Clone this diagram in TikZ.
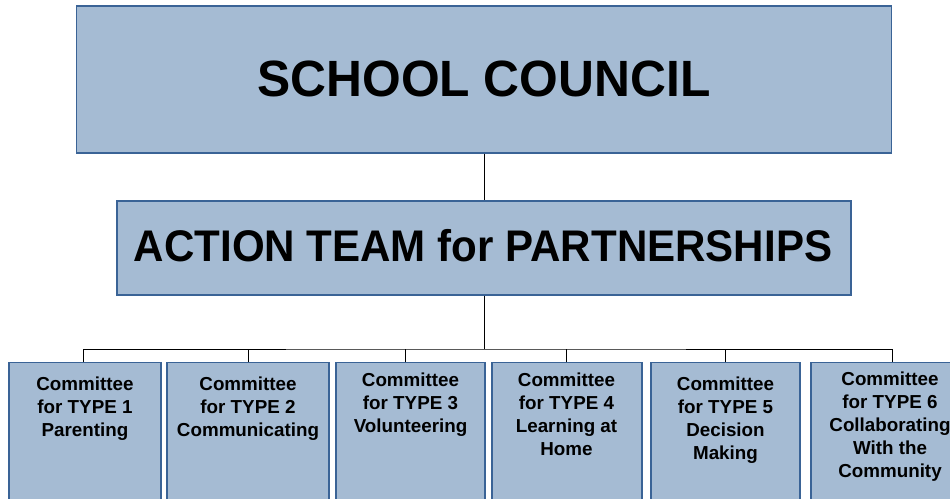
\documentclass[tikz,border=0pt]{standalone}
\usepackage{fontspec}
\setmainfont{Liberation Sans}
\usepackage{graphicx}
\definecolor{boxfill}{HTML}{A5BBD3}
\definecolor{boxline}{HTML}{3A6396}
\begin{document}
\begin{tikzpicture}[x=1pt,y=-1pt,
  box/.style={draw=boxline, line width=1.4pt, fill=boxfill, inner sep=0pt},
  ctext/.style={anchor=north, inner sep=0pt, align=center, font=\fontsize{18.8}{23}\selectfont\bfseries},
  link/.style={draw=black, line width=0.9pt}]
\useasboundingbox (0,0) rectangle (950,498);
\clip (0,0) rectangle (950,498);
% top boxes
\node[box, minimum width=815pt, minimum height=147pt] (sc) at (484,79.5) {};
\node[inner sep=0pt, font=\fontsize{51}{60}\selectfont\bfseries] (sct) at (484,78.5) {\scalebox{0.975}[1]{SCHOOL COUNCIL}};
\node[box, minimum width=734pt, minimum height=94pt] (atp) at (484,248) {};
\node[inner sep=0pt, font=\fontsize{44.3}{50}\selectfont\bfseries] (atpt) at (483,246) {\scalebox{0.95}[1]{ACTION TEAM for PARTNERSHIPS}};
% committee boxes
\node[box, anchor=north, minimum width=152pt, minimum height=150pt] (c1) at (85,362) {};
\node[box, anchor=north, minimum width=162pt, minimum height=150pt] (c2) at (248,362) {};
\node[box, anchor=north, minimum width=149pt, minimum height=150pt] (c3) at (410.5,362) {};
\node[box, anchor=north, minimum width=150pt, minimum height=150pt] (c4) at (567,362) {};
\node[box, anchor=north, minimum width=149pt, minimum height=150pt] (c5) at (725.5,362) {};
\node[box, anchor=north, minimum width=162pt, minimum height=150pt] (c6) at (892,362) {};
% committee texts
\node[ctext] (t1) at (85,376.5) {Committee\\for TYPE 1\\Parenting};
\node[ctext] (t2) at (248,376.5) {Committee\\for TYPE 2\\Communicating};
\node[ctext] (t3) at (410.5,373) {Committee\\for TYPE 3\\Volunteering};
\node[ctext] (t4) at (566.5,373) {Committee\\for TYPE 4\\Learning at\\Home};
\node[ctext] (t5) at (725.5,376.5) {Committee\\for TYPE 5\\Decision\\Making};
\node[ctext] (t6) at (890,371.5) {Committee\\for TYPE 6\\Collaborating\\With the\\Community};
% connectors
\coordinate (bus) at (484,349);
\draw[link] (sc.south) -- (atp.north);
\draw[link] (atp.south) -- (bus);
\draw[link] (c1.north -| 83,0) |- (bus) -| (c6.north);
\draw[link] (c2.north) -- ++(0,-13);
\draw[link] (c3.north -| 405,0) -- ++(0,-13);
\draw[link] (c4.north -| 566,0) -- ++(0,-13);
\draw[link] (c5.north) -- ++(0,-13);
\end{tikzpicture}
\end{document}
